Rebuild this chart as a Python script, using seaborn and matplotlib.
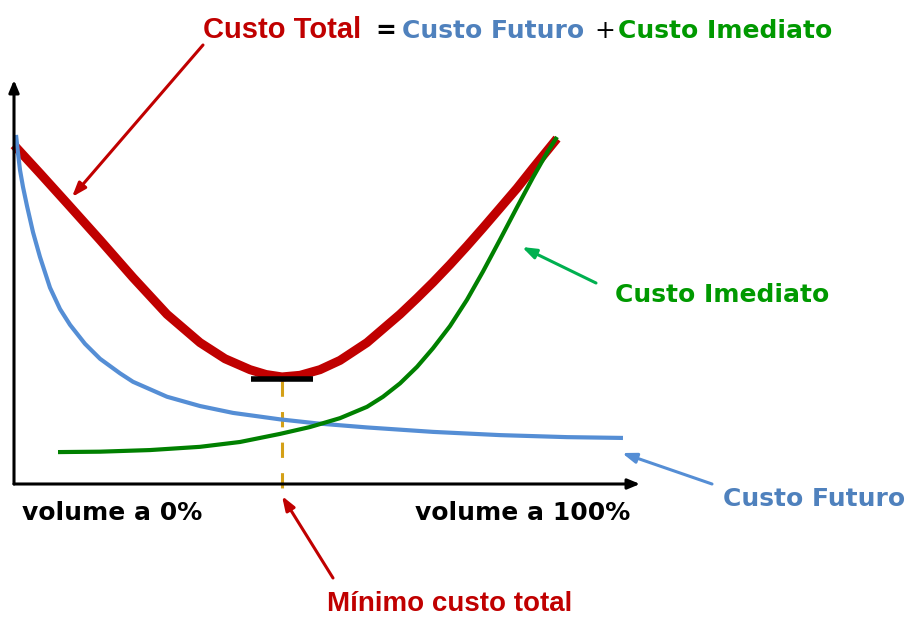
import matplotlib
matplotlib.use("Agg")
import matplotlib.pyplot as plt
import numpy as np
import pandas as pd
import seaborn as sns

# curvas (x = volume, y = custo, escala 0-100)
total_x = [0, 4.15, 8.47, 13.74, 19.01, 24.44, 29.71, 33.71, 37.70, 40.26, 42.81, 45.69, 48.88,
           52.08, 56.39, 61.66, 64.38, 66.93, 69.65, 72.36, 74.92, 77.64, 80.35, 82.91, 86.74]
total_y = [83.9, 76.9, 69.5, 60.4, 51.1, 42.0, 35.0, 31.0, 28.3, 27.1, 26.5, 26.9, 28.3,
           30.6, 35.0, 42.0, 46.0, 49.9, 54.3, 58.9, 63.4, 68.3, 73.2, 78.2, 85.5]

futuro_x = [0.32, 0.64, 0.96, 1.44, 2.08, 3.04, 4.15, 5.75, 7.35, 8.95, 11.34, 13.74, 16.93,
            19.01, 24.44, 29.71, 34.98, 42.49, 48.40, 56.39, 66.93, 77.64, 88.34, 97.28]
futuro_y = [86.4, 81.9, 77.7, 73.5, 68.8, 62.3, 56.2, 48.6, 43.3, 39.4, 34.7, 31.0, 27.4,
            25.3, 21.6, 19.3, 17.6, 16.0, 15.0, 14.0, 12.9, 12.1, 11.6, 11.4]

imediato_x = [7.03, 13.74, 21.73, 29.71, 36.10, 42.49, 47.28, 52.08, 56.39, 58.95, 61.66, 64.38,
              66.93, 69.65, 72.36, 74.92, 77.64, 80.35, 82.91, 85.14, 86.74]
imediato_y = [7.9, 8.0, 8.4, 9.2, 10.4, 12.4, 14.1, 16.3, 19.1, 21.6, 24.9, 29.0,
              33.6, 39.1, 45.6, 52.6, 60.5, 68.5, 75.9, 82.0, 85.9]

RED = "#C00000"
BLUE = "#558ED5"
BLUE_TXT = "#4F81BD"
GREEN = "#008000"
GREEN_TXT = "#009900"
GOLD = "#D4A017"

sns.set_theme(style="white")
plt.rcParams["font.family"] = ["DejaVu Sans"]

W, H = 909, 618
fig = plt.figure(figsize=(W / 100, H / 100), dpi=100)
ax = fig.add_axes([0, 0, 1, 1])
# escala: x=0 no pixel 14, 6.26 px por unidade; y=0 no pixel 484, 4.04 px por unidade
ax.set_xlim(-14 / 6.26, (W - 14) / 6.26)
ax.set_ylim((484 - H) / 4.04, 484 / 4.04)
ax.axis("off")


def fx(px, py):
    return (px / W, 1 - py / H)


tot = pd.DataFrame({"x": total_x, "y": total_y})
fut = pd.DataFrame({"x": futuro_x, "y": futuro_y})
ime = pd.DataFrame({"x": imediato_x, "y": imediato_y})

line_kw = dict(sort=False, solid_joinstyle="round", solid_capstyle="butt")
sns.lineplot(data=fut, x="x", y="y", ax=ax, color=BLUE, lw=3, zorder=3, **line_kw)
sns.lineplot(data=ime, x="x", y="y", ax=ax, color=GREEN, lw=3, zorder=3, **line_kw)
sns.lineplot(data=tot, x="x", y="y", ax=ax, color=RED, lw=6.5, zorder=2, **line_kw)

# eixos com setas
for tip in [(100, 0), (0, 100)]:
    ax.annotate("", xy=tip, xytext=(0, 0),
                arrowprops=dict(arrowstyle="-|>,head_length=0.6,head_width=0.25", color="black",
                                lw=2.2, shrinkA=0, shrinkB=0))

# ponto de minimo
i_min = int(np.argmin(total_y))
xm, ym = total_x[i_min], total_y[i_min]
ax.plot([xm - 5, xm + 5], [ym - 0.4, ym - 0.4], color="black", lw=4, solid_capstyle="butt", zorder=4)
ax.plot([xm, xm], [ym - 1, -2.5], color=GOLD, lw=2.2, ls=(0, (5, 5)), zorder=1)

# titulo
fig.text(*fx(203, 38), "Custo Total", color=RED, fontsize=21, fontweight="bold",
         family="Liberation Sans", va="baseline")
fig.text(*fx(375, 38), "=", color="black", fontsize=18, fontweight="bold", va="baseline")
fig.text(*fx(402, 38), "Custo Futuro", color=BLUE_TXT, fontsize=18, fontweight="bold", va="baseline")
fig.text(*fx(594, 38), "+", color="black", fontsize=18, va="baseline")
fig.text(*fx(618, 38), "Custo Imediato", color=GREEN_TXT, fontsize=18, fontweight="bold", va="baseline")

fig.text(*fx(615, 302), "Custo Imediato", color=GREEN_TXT, fontsize=18, fontweight="bold", va="baseline")
fig.text(*fx(723, 506), "Custo Futuro", color=BLUE_TXT, fontsize=18, fontweight="bold", va="baseline")
fig.text(*fx(22, 520), "volume a 0%", color="black", fontsize=18, fontweight="bold", va="baseline")
fig.text(*fx(630, 520), "volume a 100%", color="black", fontsize=18, fontweight="bold", va="baseline", ha="right")
fig.text(*fx(327, 611), "Mínimo custo total", color=RED, fontsize=20, fontweight="bold",
         family="Liberation Sans", va="baseline")

# setas de anotacao
arrow = "-|>,head_length=0.7,head_width=0.25"
for tail, tip, col in [((203, 45), (72, 197), RED),
                       ((596, 283), (522, 247), "#00B050"),
                       ((712, 484), (622, 453), BLUE),
                       ((333, 578), (282, 496), RED)]:
    ax.annotate("", xy=fx(*tip), xytext=fx(*tail), xycoords="figure fraction",
                textcoords="figure fraction",
                arrowprops=dict(arrowstyle=arrow, color=col, lw=2.2, shrinkA=0, shrinkB=0))

fig.savefig("out.png", dpi=100)
